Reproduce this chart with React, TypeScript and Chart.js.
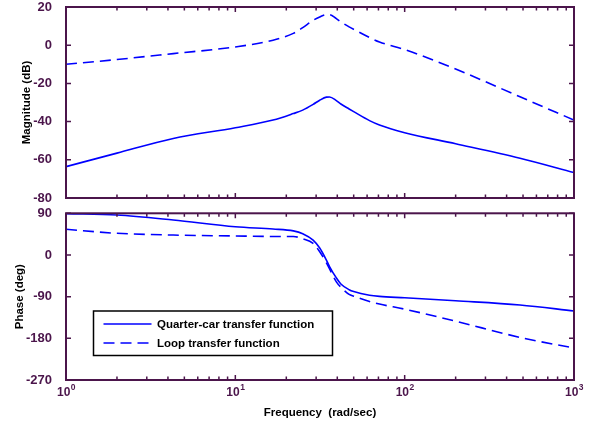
import React, { useEffect, useRef } from 'react';
import { Chart, registerables } from 'chart.js';

Chart.register(...registerables);

// Frequencies (rad/sec) at which the curves were read
const frequencies = [1, 2, 4.3, 10, 16.7, 22, 25, 28.8, 31.5, 34.5, 36, 39.5, 42, 47, 50, 62, 71, 100, 200, 480, 1000];
// Magnitude (dB)
const magQuarterCar = [-63.6, -56.5, -48.8, -43.2, -39.2, -35.8, -34, -31, -28.8, -27.2, -27.1, -29, -30.8, -33.4, -34.8, -39.5, -41.8, -45.8, -51.6, -59.2, -66.7];
const magLoop = [-10, -7.5, -4.4, -0.9, 2.6, 6.2, 9.2, 13, 14.8, 16, 16, 13.9, 12.2, 9.6, 8.3, 4.0, 1.7, -2.3, -12.5, -27, -39.2];
// Phase (deg)
const phaseQuarterCar = [89, 86.4, 75.6, 61, 56, 52, 46, 32, 15, -11, -25, -49.5, -62.6, -75, -79, -87, -89.5, -92.5, -99, -108, -121];
const phaseLoop = [55.4, 46.8, 43, 41, 40, 40, 35, 25, 7, -17, -30, -58, -69.6, -85.2, -89, -100.5, -106, -117, -143, -178, -201];

const seriesLabels = ['Quarter-car transfer function', 'Loop transfer function'];
const decadeExponents = [0, 1, 2, 3];
const minorMultipliers = [2, 3, 4, 5, 6, 7, 8, 9];

const FONT = "'Liberation Sans', Arial, Helvetica, sans-serif";
const AXIS_COLOR = '#4b154b';
const LINE_COLOR = '#0000ff';

function pts(ys: number[]) {
  return frequencies.map((f, i) => ({ x: f, y: ys[i] }));
}

const boxTicksPlugin = {
  id: 'boxTicks',
  afterDraw(chart: any) {
    const { ctx, chartArea } = chart;
    const { left, right, top, bottom } = chartArea;
    const xs = chart.scales.x;
    const ys = chart.scales.y;
    ctx.save();
    ctx.strokeStyle = AXIS_COLOR;
    ctx.lineWidth = 1.5;
    // x ticks (inward, top & bottom)
    decadeExponents.forEach((e) => {
      const dec = Math.pow(10, e);
      const px = xs.getPixelForValue(dec);
      ctx.beginPath();
      ctx.moveTo(px, bottom); ctx.lineTo(px, bottom - 5);
      ctx.moveTo(px, top); ctx.lineTo(px, top + 5);
      ctx.stroke();
      if (e < 3) {
        minorMultipliers.forEach((m) => {
          const p = xs.getPixelForValue(m * dec);
          ctx.beginPath();
          ctx.moveTo(p, bottom); ctx.lineTo(p, bottom - 3.5);
          ctx.moveTo(p, top); ctx.lineTo(p, top + 3.5);
          ctx.stroke();
        });
      }
    });
    // y ticks (inward, left & right)
    ys.ticks.forEach((t: any) => {
      const py = ys.getPixelForValue(t.value);
      ctx.beginPath();
      ctx.moveTo(left, py); ctx.lineTo(left + 5, py);
      ctx.moveTo(right, py); ctx.lineTo(right - 5, py);
      ctx.stroke();
    });
    // box
    ctx.lineWidth = 2;
    ctx.strokeRect(left, top, right - left, bottom - top);
    ctx.restore();
  },
};

const decadeLabelsPlugin = {
  id: 'decadeLabels',
  afterDraw(chart: any) {
    const { ctx, chartArea } = chart;
    const xs = chart.scales.x;
    ctx.save();
    ctx.fillStyle = AXIS_COLOR;
    ctx.textBaseline = 'alphabetic';
    ctx.textAlign = 'left';
    const baseY = chartArea.bottom + 16;
    decadeExponents.forEach((e) => {
      const px = xs.getPixelForValue(Math.pow(10, e));
      ctx.font = `bold 12px ${FONT}`;
      const wBase = ctx.measureText('10').width;
      ctx.font = `bold 8.5px ${FONT}`;
      const wExp = ctx.measureText(String(e)).width;
      const start = px - (wBase + wExp) / 2;
      ctx.font = `bold 12px ${FONT}`;
      ctx.fillText('10', start, baseY);
      ctx.font = `bold 8.5px ${FONT}`;
      ctx.fillText(String(e), start + wBase + 0.5, baseY - 6);
    });
    ctx.restore();
  },
};

const legendPlugin = {
  id: 'boxLegend',
  afterDraw(chart: any) {
    const { ctx, chartArea } = chart;
    const bx = chartArea.left + 27.5;
    const bw = 239;
    const bh = 44.5;
    const by = chartArea.bottom - 24.5 - bh;
    ctx.save();
    ctx.fillStyle = '#ffffff';
    ctx.fillRect(bx, by, bw, bh);
    ctx.strokeStyle = '#000000';
    ctx.lineWidth = 1.5;
    ctx.strokeRect(bx, by, bw, bh);
    const rows = [by + 13, by + 32];
    chart.data.datasets.forEach((ds: any, i: number) => {
      const y = rows[i];
      ctx.strokeStyle = ds.borderColor;
      ctx.lineWidth = ds.borderWidth;
      ctx.setLineDash(ds.borderDash || []);
      ctx.beginPath();
      ctx.moveTo(bx + 10, y);
      ctx.lineTo(bx + 58, y);
      ctx.stroke();
      ctx.setLineDash([]);
      ctx.fillStyle = '#000000';
      ctx.font = `bold 11.5px ${FONT}`;
      ctx.textBaseline = 'middle';
      ctx.textAlign = 'left';
      ctx.fillText(ds.label, bx + 63.5, y + 0.5);
    });
    ctx.restore();
  },
};

function yAxis(min: number, max: number, step: number, title: string, titlePad: number) {
  return {
    position: 'left',
    min,
    max,
    ticks: {
      stepSize: step,
      color: AXIS_COLOR,
      font: { family: FONT, size: 13, weight: 'bold' },
      padding: 6,
    },
    grid: { display: false },
    border: { display: false },
    title: {
      display: true,
      text: title,
      color: '#000000',
      font: { family: FONT, size: 11.5, weight: 'bold' },
      padding: { top: titlePad, bottom: 0 },
    },
    afterFit: (s: any) => {
      s.width = 66;
      s.paddingTop = 0;
      s.paddingBottom = 0;
    },
  };
}

function datasets(a: number[], b: number[]) {
  return [
    {
      label: seriesLabels[0],
      data: pts(a),
      borderColor: LINE_COLOR,
      borderWidth: 1.6,
      pointRadius: 0,
      fill: false,
      cubicInterpolationMode: 'monotone',
    },
    {
      label: seriesLabels[1],
      data: pts(b),
      borderColor: LINE_COLOR,
      borderWidth: 1.6,
      borderDash: [11, 6],
      pointRadius: 0,
      fill: false,
      cubicInterpolationMode: 'monotone',
    },
  ];
}

export default function App() {
  const topRef = useRef<HTMLCanvasElement>(null);
  const botRef = useRef<HTMLCanvasElement>(null);

  useEffect(() => {
    const top = new Chart(topRef.current as HTMLCanvasElement, {
      type: 'line',
      data: { datasets: datasets(magQuarterCar, magLoop) as any },
      options: {
        responsive: false,
        animation: false,
        devicePixelRatio: 1,
        layout: { padding: { top: 7, right: 21, bottom: 7, left: 0 } },
        plugins: { legend: { display: false }, tooltip: { enabled: false } },
        scales: {
          x: { type: 'logarithmic', min: 1, max: 1000, display: false },
          y: yAxis(-80, 20, 20, 'Magnitude (dB)', 20) as any,
        },
      },
      plugins: [boxTicksPlugin],
    });

    const bot = new Chart(botRef.current as HTMLCanvasElement, {
      type: 'line',
      data: { datasets: datasets(phaseQuarterCar, phaseLoop) as any },
      options: {
        responsive: false,
        animation: false,
        devicePixelRatio: 1,
        layout: { padding: { top: 8.3, right: 21, bottom: 0, left: 0 } },
        plugins: { legend: { display: false }, tooltip: { enabled: false } },
        scales: {
          x: {
            type: 'logarithmic',
            min: 1,
            max: 1000,
            display: true,
            ticks: { display: false },
            grid: { display: false },
            border: { display: false },
            title: {
              display: true,
              text: 'Frequency  (rad/sec)',
              color: '#000000',
              font: { family: FONT, size: 11.5, weight: 'bold' },
              padding: { top: 0, bottom: 9 },
            },
            afterFit: (s: any) => {
              s.height = 49;
              s.paddingLeft = 0;
              s.paddingRight = 0;
            },
          } as any,
          y: yAxis(-270, 90, 90, 'Phase (deg)', 13) as any,
        },
      },
      plugins: [boxTicksPlugin, decadeLabelsPlugin, legendPlugin],
    });

    return () => {
      top.destroy();
      bot.destroy();
    };
  }, []);

  return (
    <div style={{ position: 'absolute', left: 0, top: 0, width: 595, height: 429, background: '#ffffff' }}>
      <canvas ref={topRef} width={595} height={205} style={{ position: 'absolute', left: 0, top: 0 }} />
      <canvas ref={botRef} width={595} height={224} style={{ position: 'absolute', left: 0, top: 205 }} />
    </div>
  );
}
